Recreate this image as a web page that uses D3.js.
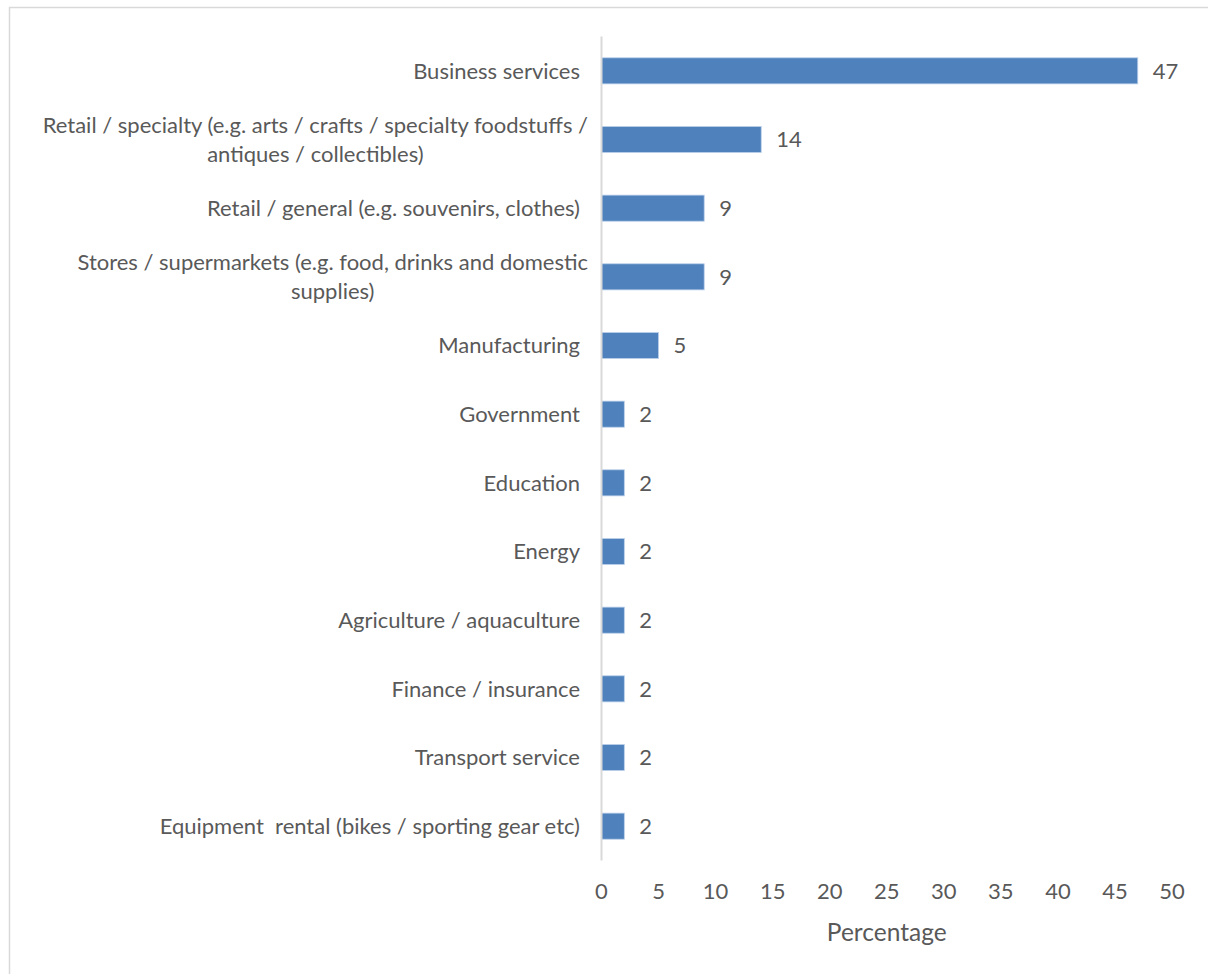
<!DOCTYPE html>
<html>
<head>
<meta charset="utf-8">
<script src="https://cdn.jsdelivr.net/npm/d3@7"></script>
<style>
  html, body { margin: 0; padding: 0; background: #fff; }
  svg { display: block; }
  text { font-family: Lato, "Open Sans", sans-serif; fill: #595959; white-space: pre; }
</style>
</head>
<body>
<svg id="chart" width="1208" height="974"></svg>
<script>
// Business sectors (top to bottom) and their share of respondents, in percent
const categories = [
  ["Business services"],
  ["Retail / specialty (e.g. arts / crafts / specialty foodstuffs /", "antiques / collectibles)"],
  ["Retail / general (e.g. souvenirs, clothes)"],
  ["Stores / supermarkets (e.g. food, drinks and domestic", "supplies)"],
  ["Manufacturing"],
  ["Government"],
  ["Education"],
  ["Energy"],
  ["Agriculture / aquaculture"],
  ["Finance / insurance"],
  ["Transport service"],
  ["Equipment  rental (bikes / sporting gear etc)"]
];
const percentages = [47, 14, 9, 9, 5, 2, 2, 2, 2, 2, 2, 2];
const xTicks = [0, 5, 10, 15, 20, 25, 30, 35, 40, 45, 50];
const xTitle = "Percentage";

const svg = d3.select("#chart");
const fontSize = 22;

// outer chart frame
svg.append("rect")
  .attr("x", 9.5).attr("y", 7.5)
  .attr("width", 1400).attr("height", 1200)
  .attr("fill", "none").attr("stroke", "#d9d9d9").attr("stroke-width", 1.5);

const plot = { left: 601.5, right: 1172, top: 36.5, bottom: 860.5 };

const x = d3.scaleLinear().domain([0, 50]).range([plot.left, plot.right]);
const y = d3.scaleBand()
  .domain(d3.range(categories.length))
  .range([plot.top, plot.bottom])
  .paddingInner(0.62).paddingOuter(0.31);

const rows = categories.map((lines, i) => ({ lines, value: percentages[i], i }));

// bars
svg.append("g").selectAll("rect")
  .data(rows)
  .join("rect")
  .attr("x", x(0))
  .attr("y", d => y(d.i))
  .attr("width", d => x(d.value) - x(0))
  .attr("height", y.bandwidth())
  .attr("fill", "#4f81bd")
  .attr("stroke", "#bcd0ea").attr("stroke-width", 0.8);

// category axis line
svg.append("line")
  .attr("x1", plot.left).attr("x2", plot.left)
  .attr("y1", plot.top).attr("y2", plot.bottom)
  .attr("stroke", "#d9d9d9").attr("stroke-width", 2);

// value labels
svg.append("g").selectAll("text")
  .data(rows)
  .join("text")
  .attr("x", d => x(d.value) + 15)
  .attr("y", d => y(d.i) + y.bandwidth() / 2)
  .attr("dy", "0.35em")
  .attr("font-size", fontSize)
  .text(d => d3.format("d")(d.value));

// category labels: right-aligned block, wrapped lines centred within it
const labelRight = 580;
const lineH = 29;
const catG = svg.append("g");
rows.forEach(d => {
  const cy = y(d.i) + y.bandwidth() / 2;
  const g = catG.append("g");
  const texts = d.lines.map((ln, k) =>
    g.append("text")
      .attr("font-size", fontSize)
      .attr("y", cy + (k - (d.lines.length - 1) / 2) * lineH)
      .attr("dy", "0.35em")
      .text(ln));
  if (d.lines.length === 1) {
    texts[0].attr("x", labelRight).attr("text-anchor", "end");
  } else {
    const w = d3.max(texts, t => t.node().getComputedTextLength());
    const cx = labelRight + 8 - w / 2;
    texts.forEach(t => t.attr("x", cx).attr("text-anchor", "middle"));
  }
});

// value axis tick labels
svg.append("g").selectAll("text")
  .data(xTicks)
  .join("text")
  .attr("x", d => x(d))
  .attr("y", 891)
  .attr("dy", "0.35em")
  .attr("text-anchor", "middle")
  .attr("font-size", fontSize)
  .text(d => d);

// value axis title
svg.append("text")
  .attr("x", (plot.left + plot.right) / 2)
  .attr("y", 932)
  .attr("dy", "0.35em")
  .attr("text-anchor", "middle")
  .attr("font-size", 24.5)
  .text(xTitle);
</script>
</body>
</html>
